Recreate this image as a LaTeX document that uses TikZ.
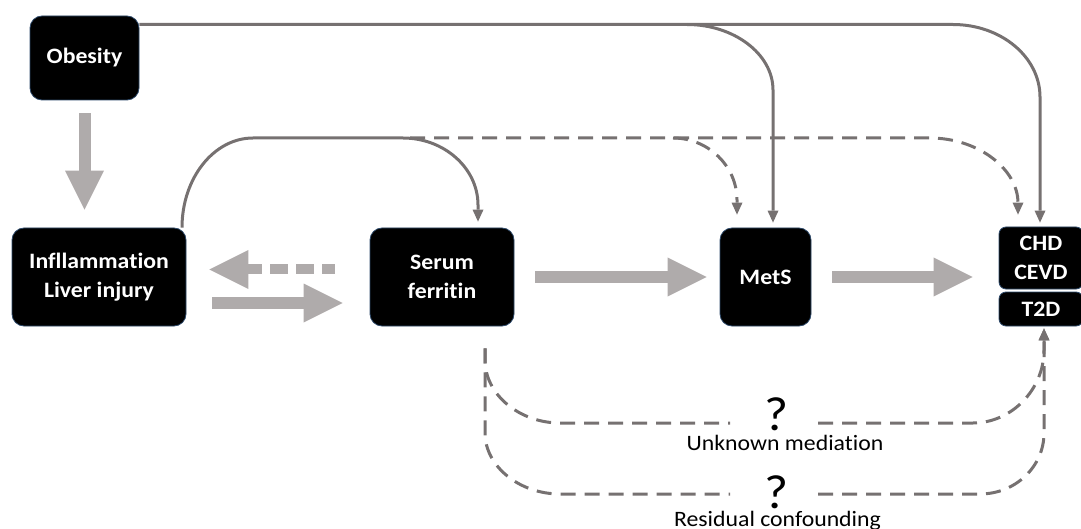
\documentclass[tikz,border=0pt]{standalone}
\usepackage{fontspec}
\usepackage{graphicx}
\setmainfont{Carlito}[Ligatures=NoCommon]
\usetikzlibrary{arrows.meta,calc}

\definecolor{linkgray}{HTML}{767171}
\definecolor{blockgray}{HTML}{AFABAB}
\definecolor{boxedge}{HTML}{2E4A6B}

% slightly widened lettering
\newcommand\widetext[1]{\scalebox{1.08}[1]{#1}}

\tikzset{
  box/.style={rectangle, rounded corners=12pt, fill=black, draw=boxedge,
    line width=0.8pt, text=white, align=center, inner sep=0pt,
    font=\fontsize{22}{29}\selectfont\bfseries},
  smallbox/.style={box, rounded corners=7pt},
  link/.style={draw=linkgray, line width=3pt,
    -{Triangle[length=12pt,width=11pt,line width=0pt]}},
  maybe/.style={link, dash pattern=on 15pt off 9pt},
  block/.style={draw=blockgray, line width=12.5pt,
    -{Triangle[length=39pt,width=39pt,line width=0pt]}},
  qmark/.style={anchor=base, inner sep=0pt, font=\fontsize{48}{50}\selectfont},
  caption/.style={anchor=base, inner sep=0pt, font=\fontsize{22}{26}\selectfont},
}

\begin{document}
\begin{tikzpicture}[x=1pt, y=-1pt]
\useasboundingbox (0,0) rectangle (1081,529);

% boxes
\node[box, minimum width=109pt, minimum height=84pt] (obe) at (84.5,58) {\widetext{Obesity}};
\node[box, minimum width=174pt, minimum height=98pt] (inf) at (99,277)
  {\widetext{Infllammation}\\\widetext{Liver injury}};
\node[box, minimum width=144pt, minimum height=98pt] (ser) at (442,277)
  {\widetext{Serum}\\\widetext{ferritin}};
\node[box, minimum width=91pt, minimum height=98pt] (mets) at (765.5,277) {\widetext{MetS}};
\node[smallbox, minimum width=84pt, minimum height=62pt] (chd) at (1041,258)
  {\widetext{CHD}\\\widetext{CEVD}};
\node[smallbox, minimum width=84pt, minimum height=34pt] (t2d) at (1041,309) {\widetext{T2D}};

% broad arrows along the main chain
\draw[block, line width=12pt] ($(obe.south)+(0,13)$) -- ($(inf.north)+(-14.5,-18)$);
\draw[block, line width=12pt] ($(inf.east)+(26,26)$) -- ($(ser.west)+(-27,26)$);
\draw[block, line width=10pt, dash pattern=on 18pt off 8pt, dash phase=5pt]
  ($(ser.west)+(-35,-7.5)$) -- ($(inf.east)+(23,-7.5)$);
\draw[block] ($(ser.east)+(21,0)$) -- ($(mets.west)+(-13,0)$);
\draw[block] ($(mets.east)+(21,0)$) -- ($(chd.west |- mets.east)+(-26,0)$);

% obesity to the outcomes
\draw[link] ($(obe.east)+(0,-33.5)$) -- (953,24.5)
  .. controls (1001,24.5) and (1040,57) .. (1040,97) -- ($(chd.north)+(-1,-4)$);
\coordinate (obsplit) at (687,24.5);
\draw[link] (obsplit) .. controls (734,24.5) and (773,54) .. (773,90)
  -- ($(mets.north)+(7.5,-5)$);

% inflammation to serum ferritin
\draw[link] ($(inf.north)+(83,0)$) .. controls (182,178) and (214,138) .. (253,138)
  -- (403,138) .. controls (444,138) and (478,168) .. (478,205)
  -- ($(ser.north)+(36,-6)$);

% uncertain paths
\coordinate (infsplit) at (410,138);
\draw[maybe] (infsplit) -- (930,138) .. controls (978,138) and (1018,169) .. (1018,203)
  -- ($(chd.north)+(-23,-12)$);
\coordinate (metsplit) at (673,138);
\draw[maybe] (metsplit) .. controls (708,138) and (737,166) .. (737,200)
  -- ($(mets.north)+(-28.5,-13)$);

% question marks and their captions
\node[qmark] (q1) at (776,430) {\widetext{?}};
\node[qmark] (q2) at (776,508) {\widetext{?}};
\node[caption] (um) at (785,450) {\widetext{Unknown mediation}};
\node[caption] (rc) at (777.5,526) {\widetext{Residual confounding}};

% the two routes from serum ferritin to T2D, broken around the question marks
\coordinate (serout) at ($(ser.south)+(43,22)$);
\coordinate (q1l) at ($(q1.base)+(-46,-7)$);
\coordinate (q1r) at ($(q1.base)+(42,-7)$);
\coordinate (q2l) at ($(q2.base)+(-46,-14)$);
\coordinate (q2r) at ($(q2.base)+(42,-14)$);
\draw[maybe, -] (serout) -- (485,360) .. controls (485,395) and (520,423) .. (560,423)
  -- (q1l);
\draw[maybe] (q1r) -- (973,423) .. controls (1011,423) and (1044,390) .. (1044,350)
  -- ($(t2d.south)+(3,2)$);
\draw[maybe, -] (serout) -- (485,433) .. controls (485,466) and (519,494) .. (560,494)
  -- (q2l);
\draw[maybe] (q2r) -- (980,494) .. controls (1015,494) and (1044,467) .. (1044,433)
  -- ($(t2d.south)+(3,2)$);
\end{tikzpicture}
\end{document}
